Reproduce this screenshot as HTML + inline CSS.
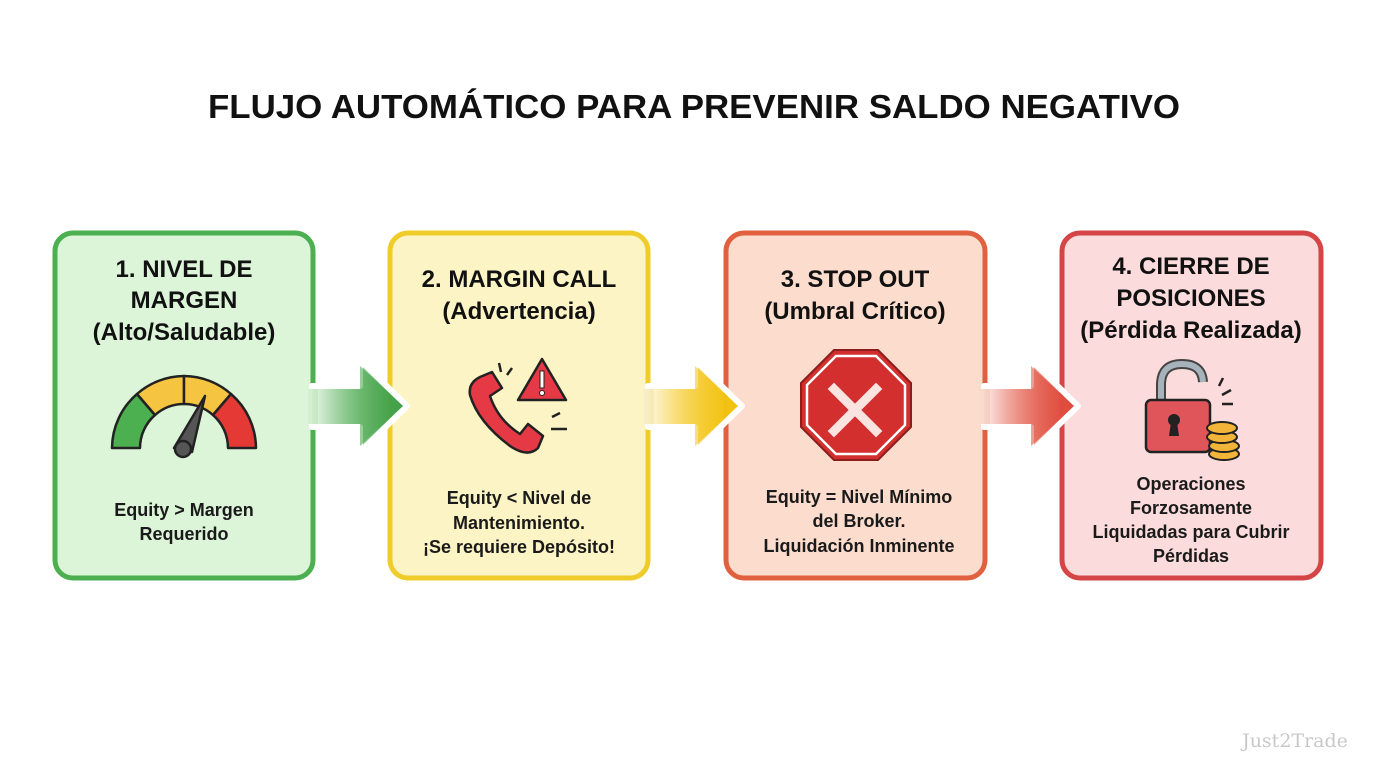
<!DOCTYPE html>
<html><head><meta charset="utf-8"><style>
html,body{margin:0;padding:0;background:#fff;}
svg{display:block;font-family:"Liberation Sans",sans-serif;}
.h{font-weight:bold;font-size:24px;fill:#111;text-anchor:middle;}
.b{font-weight:bold;font-size:18px;fill:#1a1a1a;text-anchor:middle;}
</style></head><body>
<svg width="1376" height="768" viewBox="0 0 1376 768" xmlns="http://www.w3.org/2000/svg">
<defs>
<linearGradient id="ga" x1="0" x2="1"><stop offset="0" stop-color="#4caf50" stop-opacity="0.05"/><stop offset="1" stop-color="#43a047"/></linearGradient>
<linearGradient id="gb" x1="0" x2="1"><stop offset="0" stop-color="#f5c518" stop-opacity="0.05"/><stop offset="1" stop-color="#f2c20f"/></linearGradient>
<linearGradient id="gc" x1="0" x2="1"><stop offset="0" stop-color="#e35a46" stop-opacity="0.05"/><stop offset="1" stop-color="#df4a3c"/></linearGradient>
</defs>
<rect width="1376" height="768" fill="#fff"/>
<text x="694" y="118" font-weight="bold" font-size="33" fill="#111" text-anchor="middle" textLength="972" lengthAdjust="spacingAndGlyphs">FLUJO AUTOMÁTICO PARA PREVENIR SALDO NEGATIVO</text>

<rect x="55" y="233" width="258" height="345" rx="18" fill="#dcf5d9" stroke="#4caf50" stroke-width="5"/>
<rect x="390" y="233" width="258" height="345" rx="18" fill="#fcf4c4" stroke="#f0cc2a" stroke-width="5"/>
<rect x="726" y="233" width="259" height="345" rx="18" fill="#fbdccd" stroke="#e0603f" stroke-width="5"/>
<rect x="1062" y="233" width="259" height="345" rx="18" fill="#fbdbdb" stroke="#d64545" stroke-width="5"/>

<!-- arrows -->
<g stroke="#fff" stroke-width="6" stroke-linejoin="round">
<path d="M312 386 H360 V360 L407 406 L360 452 V427 H312 Z" fill="url(#ga)"/>
<path d="M648 386 H695 V360 L742 406 L695 452 V427 H648 Z" fill="url(#gb)"/>
<path d="M984 386 H1031 V360 L1078 406 L1031 452 V427 H984 Z" fill="url(#gc)"/>
</g>
<rect x="308" y="389" width="10" height="35" fill="#d4efd0"/>
<rect x="644" y="389" width="10" height="35" fill="#f7eec8"/>
<rect x="980" y="389" width="10" height="35" fill="#f7dccd"/>
<path d="M312 389 H360 V366 L403 406 L360 446 V424 H312 Z" fill="url(#ga)"/>
<path d="M648 389 H695 V366 L738 406 L695 446 V424 H648 Z" fill="url(#gb)"/>
<path d="M984 389 H1031 V366 L1074 406 L1031 446 V424 H984 Z" fill="url(#gc)"/>

<!-- box 1 -->
<text class="h" x="184" y="277">1. NIVEL DE</text>
<text class="h" x="184" y="308">MARGEN</text>
<text class="h" x="184" y="340">(Alto/Saludable)</text>
<g stroke="#222" stroke-width="2.5" stroke-linejoin="round">
<path d="M112 448 A72 72 0 0 1 137 394 L155 415 A44 44 0 0 0 140 448 Z" fill="#4caf50"/>
<path d="M137 394 A72 72 0 0 1 184 376 L184 404 A44 44 0 0 0 155 415 Z" fill="#f5c542"/>
<path d="M184 376 A72 72 0 0 1 231 394 L213 415 A44 44 0 0 0 184 404 Z" fill="#f5c542"/>
<path d="M231 394 A72 72 0 0 1 256 448 L228 448 A44 44 0 0 0 213 415 Z" fill="#e53935"/>
<path d="M174 448 L205 396 L192 452 Z" fill="#555"/>
<circle cx="183" cy="449" r="8" fill="#555"/>
</g>
<text class="b" x="184" y="516">Equity &gt; Margen</text>
<text class="b" x="184" y="540">Requerido</text>

<!-- box 2 -->
<text class="h" x="519" y="287">2. MARGIN CALL</text>
<text class="h" x="519" y="319">(Advertencia)</text>
<g stroke="#222" stroke-width="2.5" stroke-linejoin="round">
<path d="M480 377 L492 372 L502 388 L490 396 Q498 420 520 434 L528 424 L543 436 L538 448 Q528 458 510 446 Q478 422 470 395 Q468 383 480 377 Z" fill="#e53945"/>
<path d="M542 359 L518 400 L566 400 Z" fill="#e53945"/>
</g>
<rect x="540" y="371" width="4" height="17" fill="#fff" stroke="#222" stroke-width="1"/>
<circle cx="542" cy="393" r="2.5" fill="#fff" stroke="#222" stroke-width="1"/>
<g stroke="#222" stroke-width="2.5"><line x1="499" y1="363" x2="501" y2="372"/><line x1="512" y1="368" x2="507" y2="375"/><line x1="552" y1="417" x2="560" y2="413"/><line x1="551" y1="429" x2="567" y2="429"/></g>
<text class="b" x="519" y="504">Equity &lt; Nivel de</text>
<text class="b" x="519" y="529">Mantenimiento.</text>
<text class="b" x="519" y="553">¡Se requiere Depósito!</text>

<!-- box 3 -->
<text class="h" x="855" y="287">3. STOP OUT</text>
<text class="h" x="855" y="319">(Umbral Crítico)</text>
<path d="M834 350 L878 350 L911 383 L911 427 L878 460 L834 460 L801 427 L801 383 Z" fill="#d32f2f" stroke="#8b1d1d" stroke-width="2"/>
<path d="M836 356 L876 356 L905 385 L905 425 L876 454 L836 454 L807 425 L807 385 Z" fill="none" stroke="#fff" stroke-width="2.5"/>
<path d="M834 389 L876 431 M876 389 L834 431" stroke="#fbe3e0" stroke-width="9" stroke-linecap="square"/>
<text class="b" x="859" y="503">Equity = Nivel Mínimo</text>
<text class="b" x="859" y="527">del Broker.</text>
<text class="b" x="859" y="552">Liquidación Inminente</text>

<!-- box 4 -->
<text class="h" x="1191" y="274">4. CIERRE DE</text>
<text class="h" x="1191" y="306">POSICIONES</text>
<text class="h" x="1191" y="338">(Pérdida Realizada)</text>
<path d="M1161 405 V385 Q1161 364 1182 364 Q1202 364 1203 382" fill="none" stroke="#444" stroke-width="10"/>
<path d="M1161 405 V385 Q1161 364 1182 364 Q1202 364 1203 382" fill="none" stroke="#a7b3bb" stroke-width="6"/>
<rect x="1146" y="400" width="64" height="52" rx="5" fill="#e0555a" stroke="#222" stroke-width="2.5"/>
<circle cx="1174" cy="420" r="6" fill="#222"/><path d="M1171 422 L1169 436 L1179 436 L1177 422 Z" fill="#222"/>
<g stroke="#222" stroke-width="2" fill="#f2b53a">
<ellipse cx="1224" cy="454" rx="15" ry="6"/><ellipse cx="1224" cy="446" rx="15" ry="6"/><ellipse cx="1222" cy="437" rx="15" ry="6"/><ellipse cx="1222" cy="428" rx="15" ry="6"/>
</g>
<g stroke="#222" stroke-width="2.5"><line x1="1219" y1="386" x2="1223" y2="378"/><line x1="1222" y1="395" x2="1231" y2="390"/><line x1="1222" y1="404" x2="1233" y2="404"/></g>
<text class="b" x="1191" y="490">Operaciones</text>
<text class="b" x="1191" y="514">Forzosamente</text>
<text class="b" x="1191" y="538">Liquidadas para Cubrir</text>
<text class="b" x="1191" y="562">Pérdidas</text>

<text x="1295" y="747" font-family="'DejaVu Serif','Liberation Serif',serif" font-size="19" fill="#c8c8c8" text-anchor="middle">Just2Trade</text>
</svg>
</body></html>
